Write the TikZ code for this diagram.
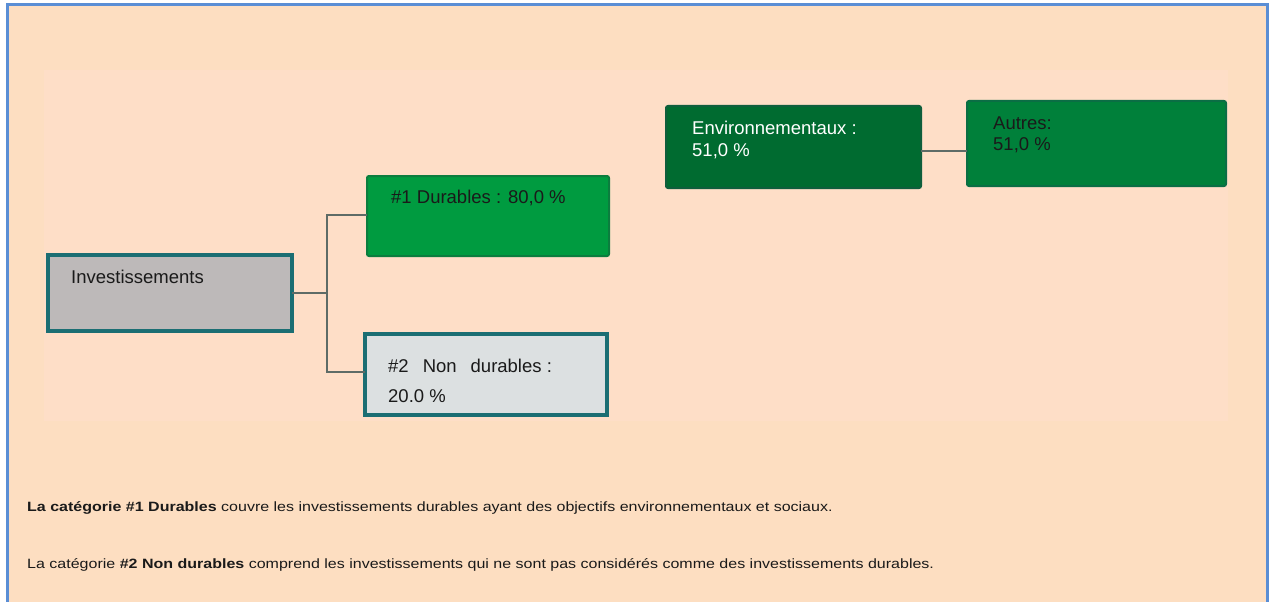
\documentclass[tikz,border=0pt]{standalone}
\usepackage{fontspec}
\setmainfont{Liberation Sans}
\usepackage{graphicx}
\definecolor{frameblue}{HTML}{5A8ED5}
\definecolor{bgout}{HTML}{FDDEC1}
\definecolor{bgin}{HTML}{FEDEC7}
\definecolor{teal}{HTML}{1B6E73}
\definecolor{invfill}{HTML}{BDB9B9}
\definecolor{lightfill}{HTML}{DCE0E1}
\definecolor{greenA}{HTML}{009B40}
\definecolor{greenAb}{HTML}{0B7D3E}
\definecolor{greenB}{HTML}{006B30}
\definecolor{greenBb}{HTML}{0E5E3C}
\definecolor{greenC}{HTML}{00803A}
\definecolor{greenCb}{HTML}{0A6E44}
\definecolor{connc}{HTML}{5E6B66}
\definecolor{txt}{HTML}{1A1A1A}
\tikzset{
  box/.style={rectangle, anchor=north west, inner sep=0pt, outer sep=0pt},
  tealbox/.style={box, draw=teal, line width=4pt},
  greenbox/.style={box, line width=2pt, rounded corners=2pt},
  lbl/.style={anchor=base west, inner sep=0pt, font=\fontsize{18.5}{22}\selectfont, text=txt},
  foot/.style={anchor=base west, inner sep=0pt, font=\fontsize{13.5}{16}\selectfont, text=txt},
  conn/.style={draw=connc, line width=1.6pt}
}
\begin{document}
\begin{tikzpicture}[x=1pt,y=-1pt]
\useasboundingbox (0,0) rectangle (1270,602);
\fill[white] (0,0) rectangle (1270,602);
\fill[bgout] (7,5) rectangle (1267,602);
\fill[bgin] (44,70) rectangle (1228,421);
\draw[frameblue, line width=3pt] (7,602) -- (7,5) -- (1267,5) -- (1267,602);

% boxes
\node[tealbox, fill=invfill, minimum width=244pt, minimum height=76pt] (inv) at (48,255) {};
\node[greenbox, draw=greenAb, fill=greenA, minimum width=242pt, minimum height=80pt] (d1) at (367,176) {};
\node[tealbox, fill=lightfill, minimum width=242pt, minimum height=81pt] (d2) at (365,334) {};
\node[greenbox, draw=greenBb, fill=greenB, minimum width=255pt, minimum height=82pt] (env) at (666,106) {};
\node[greenbox, draw=greenCb, fill=greenC, minimum width=259pt, minimum height=85pt] (aut) at (967,101) {};

% labels
\node[lbl] (tinv) at (71,283) {Investissements};
\node[lbl] (td1) at (391,203) {\#1 Durables : 80,0 \%};
\node[lbl] (td2a) at (388,372) {\#2\hspace{14pt}Non\hspace{14pt}durables :};
\node[lbl] (td2b) at (388,402) {20.0 \%};
\node[lbl, text=white] (tenva) at (692,135) {Environnementaux :};
\node[lbl, text=white] (tenvb) at (692,157) {51,0 \%};
\node[lbl] (tauta) at (993,129) {Autres:};
\node[lbl] (tautb) at (993,150) {51,0 \%};

% connectors
\coordinate (jn) at (327,293);
\draw[conn] (inv.east |- jn) -- (jn);
\draw[conn] (d1.west |- 0,215) -| (jn) |- (d2.west |- 0,372);
\draw[conn] (env.east |- 0,151) -- (aut.west |- 0,151);

% footer
\node[foot] (f1) at (27,511) {\scalebox{1.186}[1]{\textbf{La catégorie \#1 Durables} couvre les investissements durables ayant des objectifs environnementaux et sociaux.}};
\node[foot] (f2) at (27,568) {\scalebox{1.186}[1]{La catégorie \textbf{\#2 Non durables} comprend les investissements qui ne sont pas considérés comme des investissements durables.}};
\end{tikzpicture}
\end{document}
